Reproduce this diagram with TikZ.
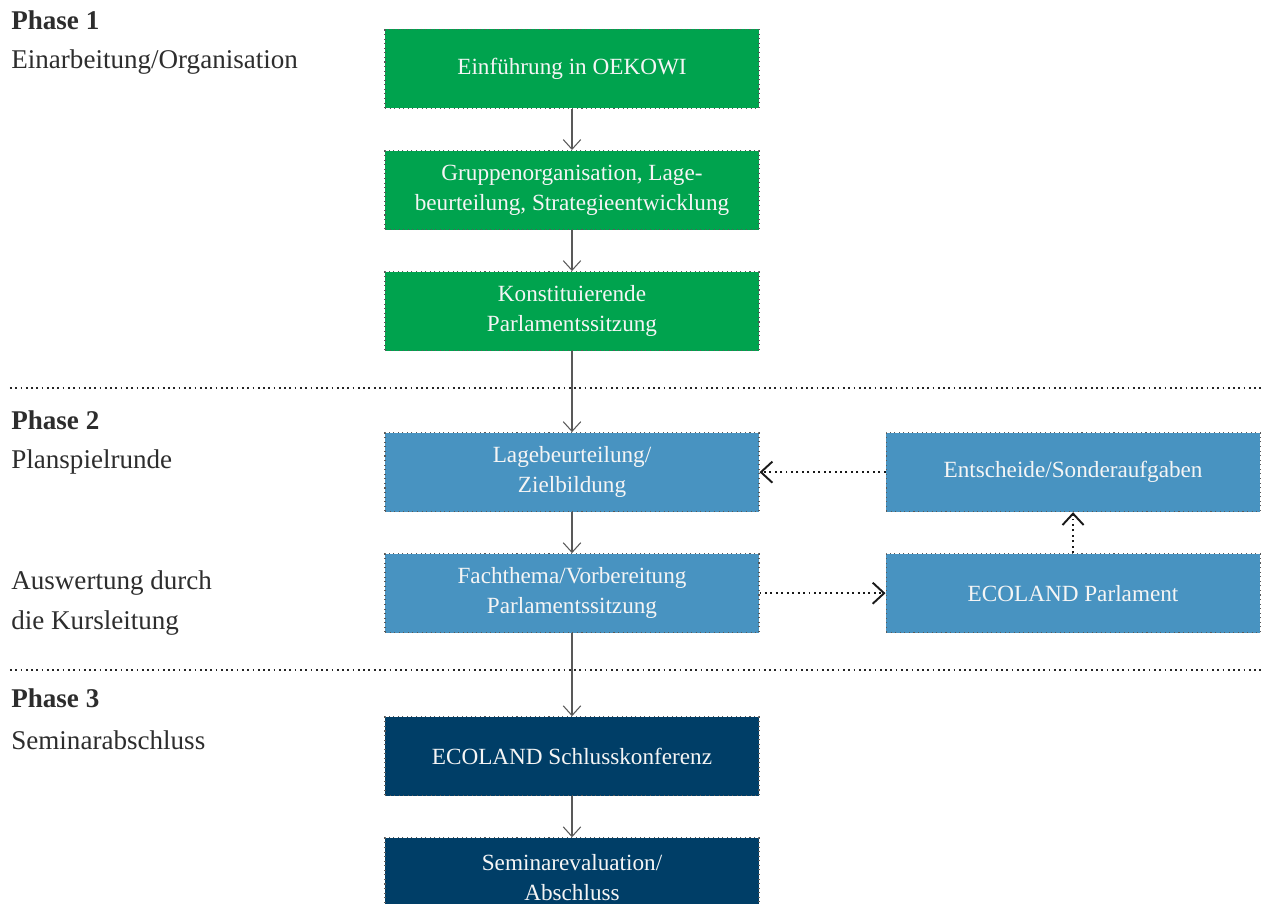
\documentclass[tikz,border=0pt]{standalone}
\usepackage{fontspec}
\setmainfont{Liberation Serif}
\usetikzlibrary{arrows.meta, positioning}
\usepackage{xcolor}

\definecolor{phasegreen}{RGB}{0,163,78}
\definecolor{phaseblue}{RGB}{72,147,193}
\definecolor{phasenavy}{RGB}{0,62,103}
\definecolor{sidegray}{RGB}{45,45,45}

\begin{document}
\begin{tikzpicture}[
        box/.style={draw=black!65, dotted, line width=0.6pt, minimum width=7.48cm, minimum height=1.58cm,
            align=center, text=white!96!black, inner sep=2pt, font=\fontsize{13.2}{17}\selectfont},
        flow/.style={-{Straight Barb[length=5.5pt, width=10pt]}, draw=black!65, line width=0.6pt},
        feedback/.style={-{Straight Barb[length=6.5pt, width=12pt]}, dotted, draw=black!90, line width=1.1pt},
        sidetext/.style={anchor=base west, inner sep=0pt, text=sidegray, font=\fontsize{15.4}{22}\selectfont},
        divider/.style={dotted, draw=black!85, line width=1pt},
        node distance=0.82cm
    ]
        \useasboundingbox (0,0) rectangle (25.28,18.08);

        % Phase dividers
        \draw[divider] (0.2,10.32) -- (25.28,10.32);
        \draw[divider] (0.2,4.68) -- (25.28,4.68);

        % Phase labels
        \node[sidetext] (p1) at (0.22,17.48) {\textbf{Phase 1}};
        \node[sidetext] (p1text) at (0.22,16.70) {Einarbeitung/Organisation};
        \node[sidetext] (p2) at (0.22,9.48) {\textbf{Phase 2}};
        \node[sidetext] (p2text) at (0.22,8.70) {Planspielrunde};
        \node[sidetext] (review1) at (0.22,6.28) {Auswertung durch};
        \node[sidetext] (review2) at (0.22,5.48) {die Kursleitung};
        \node[sidetext] (p3) at (0.22,3.92) {\textbf{Phase 3}};
        \node[sidetext] (p3text) at (0.22,3.08) {Seminarabschluss};

        % Phase 1 boxes
        \node[box, fill=phasegreen] (intro) at (11.44,16.70) {Einführung in OEKOWI};
        \node[box, fill=phasegreen, below=of intro] (orga) {Gruppenorganisation, Lage-\\beurteilung, Strategieentwicklung};
        \node[box, fill=phasegreen, below=of orga] (session) {Konstituierende\\Parlamentssitzung};

        % Phase 2 boxes
        \node[box, fill=phaseblue, below=1.62cm of session] (goals) {Lagebeurteilung/\\Zielbildung};
        \node[box, fill=phaseblue, below=of goals] (topic) {Fachthema/Vorbereitung\\Parlamentssitzung};
        \node[box, fill=phaseblue, right=2.52cm of goals] (decide) {Entscheide/Sonderaufgaben};
        \node[box, fill=phaseblue, right=2.52cm of topic] (parliament) {ECOLAND Parlament};

        % Phase 3 boxes
        \node[box, fill=phasenavy, below=1.66cm of topic] (conference) {ECOLAND Schlusskonferenz};
        \node[box, fill=phasenavy, below=of conference] (evaluation) {Seminarevaluation/\\Abschluss};

        % Arrows
        \draw[flow] (intro) -- (orga);
        \draw[flow] (orga) -- (session);
        \draw[flow] (session) -- (goals);
        \draw[flow] (goals) -- (topic);
        \draw[flow] (topic) -- (conference);
        \draw[flow] (conference) -- (evaluation);
        \draw[feedback] (topic) -- (parliament);
        \draw[feedback] (parliament) -- (decide);
        \draw[feedback] (decide) -- (goals);
    \end{tikzpicture}
\end{document}
